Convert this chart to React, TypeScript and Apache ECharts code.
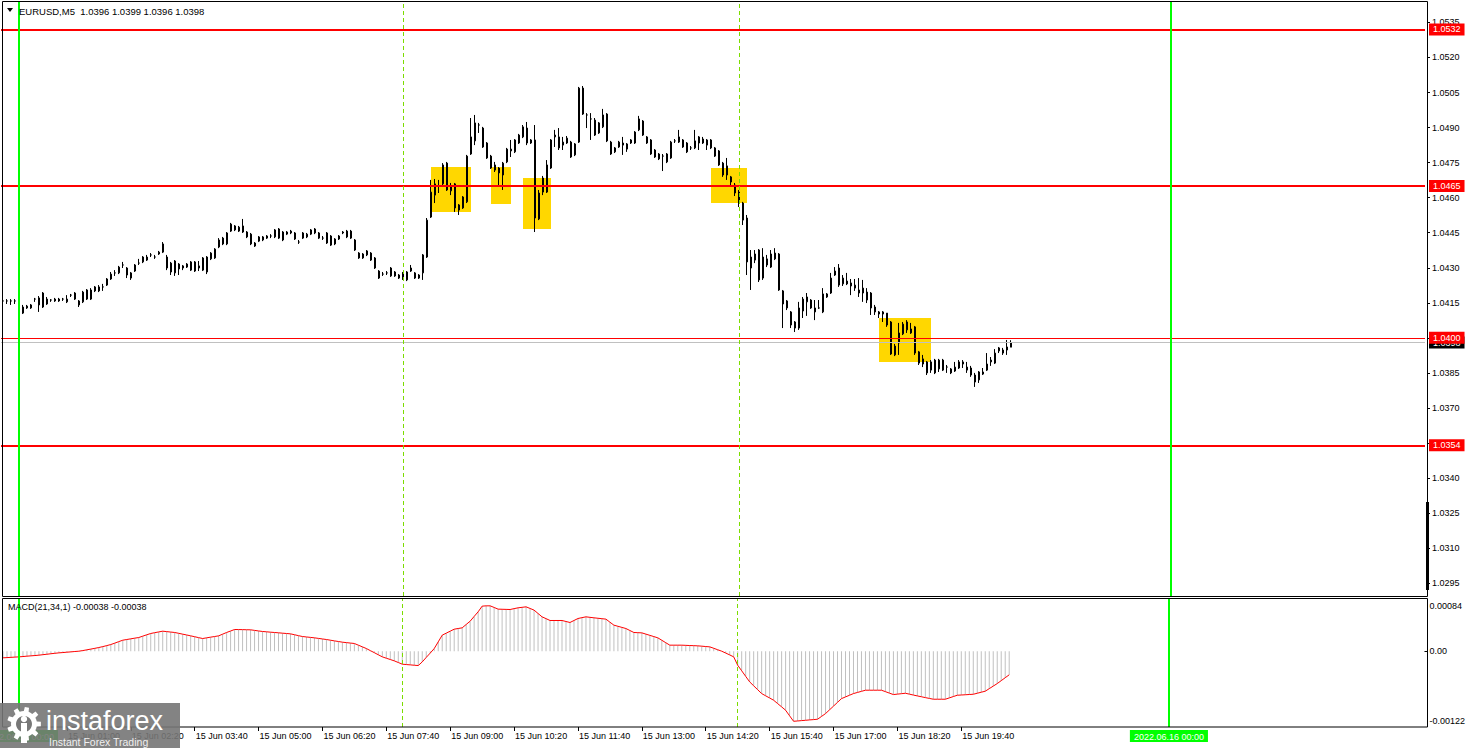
import React, { useEffect, useRef } from 'react';
import * as echarts from 'echarts';

// ---------- data ----------
const symbolName = 'EURUSD,M5';
const lastBar = { open: 1.0396, high: 1.0399, low: 1.0396, close: 1.0398 };
const macdTitle = 'MACD(21,34,1) -0.00038 -0.00038';

const opens = [
  1.04158,1.04158,1.04158,1.04158,1.04141,1.04106,1.04128,1.04128,1.04166,1.04171,
  1.04132,1.04166,1.04162,1.04166,1.04166,1.04166,1.04154,1.04183,1.04192,1.04158,
  1.04154,1.04205,1.04166,1.04218,1.04218,1.04218,1.04226,1.04252,1.04278,1.04278,
  1.04312,1.04299,1.04256,1.04286,1.04320,1.04325,1.04333,1.04355,1.04346,1.04359,
  1.04402,1.04346,1.04320,1.04278,1.04316,1.04308,1.04303,1.04325,1.04325,1.04299,
  1.04342,1.04282,1.04338,1.04342,1.04389,1.04427,1.04402,1.04457,1.04479,1.04457,
  1.04479,1.04453,1.04444,1.04393,1.04414,1.04419,1.04427,1.04436,1.04432,1.04427,
  1.04453,1.04444,1.04449,1.04449,1.04410,1.04427,1.04432,1.04444,1.04449,1.04449,
  1.04427,1.04406,1.04436,1.04423,1.04423,1.04449,1.04457,1.04457,1.04419,1.04363,
  1.04342,1.04355,1.04363,1.04342,1.04286,1.04273,1.04278,1.04265,1.04282,1.04256,
  1.04278,1.04248,1.04299,1.04278,1.04269,1.04278,1.04346,1.04517,1.04611,1.04650,
  1.04659,1.04748,1.04629,1.04659,1.04569,1.04556,1.04582,1.04787,1.04843,1.04911,
  1.04898,1.04834,1.04778,1.04718,1.04727,1.04697,1.04753,1.04800,1.04796,1.04834,
  1.04860,1.04898,1.04847,1.04847,1.04509,1.04684,1.04624,1.04727,1.04860,1.04860,
  1.04825,1.04834,1.04838,1.04783,1.04838,1.05069,1.04954,1.04937,1.04932,1.04877,
  1.04903,1.04958,1.04838,1.04796,1.04817,1.04825,1.04808,1.04834,1.04834,1.04890,
  1.04928,1.04860,1.04847,1.04804,1.04787,1.04778,1.04753,1.04770,1.04843,1.04838,
  1.04847,1.04834,1.04813,1.04813,1.04834,1.04851,1.04825,1.04847,1.04813,1.04800,
  1.04748,1.04736,1.04689,1.04654,1.04624,1.04577,1.04513,1.04299,1.04333,1.04376,
  1.04256,1.04338,1.04303,1.04363,1.04359,1.04201,1.04158,1.04111,1.04068,1.04042,
  1.04115,1.04154,1.04162,1.04128,1.04128,1.04111,1.04175,1.04192,1.04269,1.04299,
  1.04231,1.04243,1.04222,1.04213,1.04205,1.04213,1.04196,1.04192,1.04132,1.04102,
  1.04102,1.04106,1.04068,1.03927,1.03978,1.04017,1.04034,1.04021,1.04047,1.03940,
  1.03910,1.03897,1.03862,1.03905,1.03867,1.03905,1.03875,1.03867,1.03858,1.03871,
  1.03897,1.03875,1.03871,1.03841,1.03820,1.03845,1.03862,1.03897,1.03892,1.03944,
  1.03948,1.03948,1.03960,
];

const closes = [
  1.04158,1.04158,1.04158,1.04158,1.04111,1.04132,1.04136,1.04141,1.04166,1.04141,
  1.04192,1.04145,1.04162,1.04158,1.04158,1.04166,1.04166,1.04183,1.04166,1.04141,
  1.04196,1.04166,1.04205,1.04201,1.04201,1.04218,1.04252,1.04273,1.04278,1.04303,
  1.04312,1.04269,1.04278,1.04312,1.04320,1.04346,1.04346,1.04355,1.04346,1.04367,
  1.04367,1.04299,1.04282,1.04329,1.04295,1.04299,1.04316,1.04290,1.04286,1.04308,
  1.04290,1.04346,1.04363,1.04380,1.04419,1.04402,1.04449,1.04487,1.04462,1.04474,
  1.04453,1.04432,1.04402,1.04406,1.04432,1.04432,1.04436,1.04436,1.04462,1.04466,
  1.04419,1.04453,1.04457,1.04423,1.04410,1.04449,1.04444,1.04462,1.04466,1.04427,
  1.04427,1.04449,1.04397,1.04402,1.04436,1.04453,1.04432,1.04427,1.04376,1.04342,
  1.04359,1.04372,1.04333,1.04299,1.04256,1.04273,1.04278,1.04299,1.04265,1.04269,
  1.04252,1.04282,1.04286,1.04256,1.04256,1.04355,1.04504,1.04624,1.04659,1.04650,
  1.04740,1.04633,1.04650,1.04556,1.04547,1.04603,1.04778,1.04860,1.04920,1.04911,
  1.04817,1.04770,1.04727,1.04740,1.04706,1.04748,1.04808,1.04808,1.04847,1.04868,
  1.04903,1.04834,1.04834,1.04513,1.04620,1.04624,1.04740,1.04847,1.04868,1.04813,
  1.04838,1.04855,1.04774,1.04830,1.05069,1.04958,1.04954,1.04937,1.04868,1.04920,
  1.04954,1.04843,1.04787,1.04813,1.04838,1.04834,1.04830,1.04847,1.04881,1.04937,
  1.04868,1.04834,1.04787,1.04774,1.04766,1.04778,1.04787,1.04838,1.04843,1.04860,
  1.04817,1.04796,1.04813,1.04843,1.04860,1.04834,1.04847,1.04813,1.04778,1.04740,
  1.04697,1.04697,1.04667,1.04620,1.04577,1.04504,1.04325,1.04346,1.04359,1.04248,
  1.04346,1.04312,1.04359,1.04338,1.04205,1.04145,1.04128,1.04055,1.04042,1.04128,
  1.04166,1.04175,1.04128,1.04111,1.04128,1.04188,1.04188,1.04256,1.04286,1.04226,
  1.04256,1.04231,1.04235,1.04226,1.04192,1.04192,1.04162,1.04128,1.04111,1.04111,
  1.04111,1.04055,1.03931,1.03965,1.04021,1.04059,1.04068,1.04038,1.03935,1.03892,
  1.03888,1.03850,1.03897,1.03850,1.03905,1.03862,1.03875,1.03850,1.03875,1.03897,
  1.03888,1.03862,1.03841,1.03811,1.03854,1.03854,1.03888,1.03905,1.03935,1.03957,
  1.03935,1.03961,1.03980,
];

const highs = [
  1.04166,1.04166,1.04166,1.04166,1.04145,1.04141,1.04141,1.04145,1.04171,1.04179,
  1.04196,1.04175,1.04166,1.04171,1.04171,1.04171,1.04183,1.04188,1.04196,1.04162,
  1.04201,1.04209,1.04213,1.04222,1.04226,1.04231,1.04256,1.04282,1.04290,1.04308,
  1.04325,1.04303,1.04282,1.04316,1.04338,1.04350,1.04355,1.04363,1.04355,1.04372,
  1.04410,1.04355,1.04325,1.04333,1.04320,1.04312,1.04320,1.04329,1.04329,1.04329,
  1.04346,1.04350,1.04367,1.04384,1.04427,1.04432,1.04453,1.04492,1.04483,1.04479,
  1.04509,1.04457,1.04449,1.04410,1.04436,1.04436,1.04440,1.04444,1.04466,1.04470,
  1.04457,1.04457,1.04462,1.04453,1.04419,1.04453,1.04449,1.04466,1.04470,1.04453,
  1.04436,1.04453,1.04440,1.04427,1.04440,1.04457,1.04462,1.04462,1.04423,1.04367,
  1.04363,1.04376,1.04367,1.04346,1.04290,1.04282,1.04286,1.04303,1.04286,1.04273,
  1.04282,1.04286,1.04312,1.04282,1.04273,1.04359,1.04513,1.04676,1.04680,1.04676,
  1.04748,1.04753,1.04663,1.04663,1.04573,1.04607,1.04783,1.04941,1.04954,1.04920,
  1.04903,1.04838,1.04783,1.04753,1.04731,1.04753,1.04813,1.04847,1.04851,1.04873,
  1.04911,1.04924,1.04851,1.04911,1.04633,1.04693,1.04761,1.04851,1.04890,1.04898,
  1.04860,1.04864,1.04843,1.04834,1.05074,1.05078,1.04962,1.04962,1.04941,1.04924,
  1.04980,1.04962,1.04843,1.04817,1.04843,1.04860,1.04834,1.04851,1.04885,1.04950,
  1.04932,1.04864,1.04851,1.04808,1.04791,1.04787,1.04791,1.04843,1.04851,1.04890,
  1.04851,1.04838,1.04821,1.04890,1.04864,1.04860,1.04851,1.04851,1.04817,1.04804,
  1.04753,1.04770,1.04693,1.04663,1.04633,1.04582,1.04526,1.04376,1.04376,1.04380,
  1.04384,1.04355,1.04376,1.04384,1.04363,1.04205,1.04162,1.04115,1.04072,1.04154,
  1.04175,1.04192,1.04166,1.04162,1.04162,1.04213,1.04192,1.04278,1.04303,1.04316,
  1.04269,1.04278,1.04252,1.04252,1.04256,1.04248,1.04213,1.04196,1.04141,1.04115,
  1.04115,1.04106,1.04072,1.03974,1.04064,1.04068,1.04076,1.04064,1.04051,1.03944,
  1.03927,1.03901,1.03905,1.03910,1.03910,1.03910,1.03884,1.03871,1.03897,1.03905,
  1.03905,1.03897,1.03880,1.03850,1.03858,1.03871,1.03935,1.03918,1.03952,1.03961,
  1.03957,1.03991,1.03990,
];

const lows = [
  1.04141,1.04145,1.04141,1.04145,1.04098,1.04102,1.04124,1.04124,1.04154,1.04111,
  1.04128,1.04141,1.04154,1.04154,1.04154,1.04158,1.04149,1.04175,1.04162,1.04132,
  1.04149,1.04162,1.04162,1.04196,1.04196,1.04201,1.04222,1.04248,1.04265,1.04273,
  1.04299,1.04256,1.04248,1.04282,1.04312,1.04320,1.04329,1.04346,1.04338,1.04355,
  1.04363,1.04290,1.04269,1.04265,1.04269,1.04290,1.04299,1.04286,1.04282,1.04286,
  1.04286,1.04273,1.04333,1.04338,1.04384,1.04397,1.04397,1.04453,1.04457,1.04453,
  1.04449,1.04427,1.04397,1.04389,1.04410,1.04414,1.04423,1.04427,1.04427,1.04423,
  1.04414,1.04440,1.04444,1.04419,1.04402,1.04423,1.04427,1.04440,1.04444,1.04423,
  1.04419,1.04402,1.04393,1.04397,1.04419,1.04444,1.04427,1.04423,1.04372,1.04338,
  1.04338,1.04350,1.04329,1.04295,1.04252,1.04265,1.04269,1.04261,1.04261,1.04252,
  1.04248,1.04243,1.04282,1.04252,1.04252,1.04248,1.04342,1.04513,1.04577,1.04620,
  1.04654,1.04629,1.04611,1.04539,1.04526,1.04552,1.04577,1.04783,1.04825,1.04877,
  1.04813,1.04766,1.04723,1.04710,1.04654,1.04633,1.04748,1.04774,1.04791,1.04830,
  1.04855,1.04825,1.04830,1.04453,1.04504,1.04611,1.04620,1.04723,1.04817,1.04804,
  1.04804,1.04830,1.04770,1.04778,1.04834,1.04954,1.04898,1.04847,1.04864,1.04873,
  1.04898,1.04838,1.04783,1.04791,1.04813,1.04783,1.04796,1.04830,1.04830,1.04885,
  1.04864,1.04830,1.04783,1.04770,1.04761,1.04714,1.04748,1.04766,1.04834,1.04834,
  1.04813,1.04791,1.04804,1.04808,1.04804,1.04830,1.04804,1.04808,1.04774,1.04736,
  1.04689,1.04676,1.04646,1.04607,1.04560,1.04483,1.04269,1.04205,1.04320,1.04239,
  1.04248,1.04303,1.04299,1.04333,1.04201,1.04042,1.04119,1.04042,1.04025,1.04034,
  1.04085,1.04094,1.04124,1.04076,1.04124,1.04106,1.04171,1.04188,1.04265,1.04218,
  1.04222,1.04226,1.04183,1.04201,1.04175,1.04154,1.04149,1.04098,1.04098,1.04085,
  1.04068,1.04047,1.03927,1.03922,1.03927,1.04012,1.04021,1.04017,1.03927,1.03884,
  1.03875,1.03841,1.03850,1.03845,1.03854,1.03858,1.03850,1.03845,1.03854,1.03867,
  1.03871,1.03850,1.03833,1.03790,1.03807,1.03841,1.03858,1.03880,1.03888,1.03935,
  1.03927,1.03927,1.03960,
];

const macdValues = [
  -0.000107,-0.000103,-0.000099,-0.000095,-0.000091,-0.000086,-0.000080,-0.000075,-0.000070,-0.000064,
  -0.000056,-0.000049,-0.000041,-0.000034,-0.000027,-0.000022,-0.000016,-0.000011,-0.000005,0,
  0.000010,0.000022,0.000034,0.000046,0.000059,0.000074,0.000090,0.000107,0.000130,0.000154,
  0.000177,0.000188,0.000199,0.000210,0.000220,0.000242,0.000264,0.000285,0.000298,0.000310,
  0.000322,0.000315,0.000308,0.000301,0.000288,0.000274,0.000261,0.000247,0.000233,0.000218,
  0.000204,0.000215,0.000226,0.000236,0.000247,0.000274,0.000301,0.000325,0.000349,0.000348,
  0.000347,0.000345,0.000344,0.000335,0.000326,0.000317,0.000312,0.000306,0.000301,0.000296,
  0.000290,0.000285,0.000279,0.000265,0.000250,0.000236,0.000229,0.000222,0.000215,0.000206,
  0.000197,0.000188,0.000177,0.000166,0.000156,0.000145,0.000138,0.000131,0.000124,0.000097,
  0.000070,0.000043,0.000009,-0.000024,-0.000058,-0.000091,-0.000113,-0.000134,-0.000156,-0.000182,
  -0.000209,-0.000215,-0.000220,-0.000226,-0.000231,-0.000172,-0.000100,-0.000030,0.000043,0.000150,
  0.000258,0.000290,0.000322,0.000354,0.000365,0.000376,0.000430,0.000483,0.000560,0.000634,
  0.000725,0.000730,0.000730,0.000704,0.000677,0.000675,0.000673,0.000671,0.000685,0.000698,
  0.000706,0.000714,0.000688,0.000661,0.000607,0.000553,0.000524,0.000494,0.000494,0.000494,
  0.000494,0.000478,0.000462,0.000494,0.000526,0.000540,0.000553,0.000545,0.000537,0.000530,
  0.000523,0.000516,0.000467,0.000419,0.000401,0.000383,0.000365,0.000333,0.000301,0.000298,
  0.000295,0.000275,0.000255,0.000235,0.000215,0.000176,0.000136,0.000097,0.000097,0.000097,
  0.000097,0.000094,0.000091,0.000089,0.000086,0.000081,0.000075,0.000070,0.000047,0.000023,
  0,-0.000030,-0.000060,-0.000091,-0.000226,-0.000315,-0.000405,-0.000494,-0.000557,-0.000619,
  -0.000682,-0.000718,-0.000753,-0.000789,-0.000843,-0.000896,-0.000950,-0.001040,-0.001128,-0.001123,
  -0.001117,-0.001112,-0.001106,-0.001101,-0.001095,-0.001050,-0.001004,-0.000944,-0.000884,-0.000823,
  -0.000763,-0.000736,-0.000709,-0.000682,-0.000664,-0.000646,-0.000628,-0.000628,-0.000628,-0.000628,
  -0.000628,-0.000651,-0.000675,-0.000698,-0.000691,-0.000684,-0.000677,-0.000691,-0.000706,-0.000720,
  -0.000733,-0.000747,-0.000760,-0.000773,-0.000773,-0.000773,-0.000773,-0.000752,-0.000730,-0.000709,
  -0.000705,-0.000701,-0.000697,-0.000693,-0.000677,-0.000660,-0.000644,-0.000603,-0.000562,-0.000521,
  -0.000474,-0.000427,-0.000380,
];

// horizontal levels (red), their line widths
const levelPrices = [1.0532, 1.0465, 1.04, 1.0354];
const levelWidths = [2, 2, 1, 2];
const bidPrice = 1.0398;

// yellow zones: [from bar, to bar, top price, bottom price]
const zones = [
  [107, 117, 1.04731, 1.04539],
  [122, 127, 1.04731, 1.04573],
  [130, 137, 1.04684, 1.04466],
  [177, 186, 1.04727, 1.04577],
  [219, 232, 1.04085, 1.03897],
];

const priceTicks = [1.0295, 1.031, 1.0325, 1.034, 1.0355, 1.037, 1.0385, 1.04, 1.0415, 1.043, 1.0445, 1.046, 1.0475, 1.049, 1.0505, 1.052, 1.0535];
const hiddenPriceLabels = [1.0355, 1.04];
const macdTicks = [0.00084, 0, -0.00122];
const timeLabels = ['15 Jun 01:00', '15 Jun 02:20', '15 Jun 03:40', '15 Jun 05:00', '15 Jun 06:20', '15 Jun 07:40', '15 Jun 09:00', '15 Jun 10:20', '15 Jun 11:40', '15 Jun 13:00', '15 Jun 14:20', '15 Jun 15:40', '15 Jun 17:00', '15 Jun 18:20', '15 Jun 19:40'];
const solidVLines = ['15 Jun 00:00', '16 Jun 00:00'];
const solidVLabels = ['2022.06.15 00:00', '2022.06.16 00:00'];
const dashedVLines = ['15 Jun 08:00', '15 Jun 15:00'];

const slotCount = 356; // bar slots on the time axis, 5 minutes each, from 14 Jun 23:40
const categories = Array.from({ length: slotCount }, (_, i) => {
  const total = 23 * 60 + 40 + 5 * i;
  const day = 14 + Math.floor(total / 1440);
  const m = total % 1440;
  return `${day} Jun ${String(Math.floor(m / 60)).padStart(2, '0')}:${String(m % 60).padStart(2, '0')}`;
});

const FONT = 'Liberation Sans';

function gearPoints(cx: number, cy: number, rOut: number, rIn: number, teeth: number) {
  const pts: number[][] = [];
  const step = (Math.PI * 2) / teeth;
  for (let k = 0; k < teeth; k++) {
    const a = k * step;
    const p = (r: number, ang: number) => [cx + r * Math.cos(ang), cy + r * Math.sin(ang)];
    pts.push(p(rIn, a - step * 0.5));
    pts.push(p(rIn, a - step * 0.27));
    pts.push(p(rOut, a - step * 0.18));
    pts.push(p(rOut, a + step * 0.18));
    pts.push(p(rIn, a + step * 0.27));
  }
  return pts;
}

export default function App() {
  const ref = useRef<HTMLDivElement>(null);
  useEffect(() => {
    if (!ref.current) return;
    const chart = echarts.init(ref.current, null, { renderer: 'svg' });
    const candleData = opens.map((o, i) => [o, closes[i], lows[i], highs[i]]);
    const showTime = (_: number, v: string) => timeLabels.includes(v);

    const vLineData = (withLabels: boolean) => [
      ...solidVLines.map((c, k) => ({
        xAxis: c,
        lineStyle: { color: '#00FF00', width: 2, type: 'solid' },
        label: withLabels
          ? { show: true, position: 'start', formatter: solidVLabels[k], backgroundColor: '#00FF00', color: '#ffffff', fontFamily: FONT, fontSize: 9, padding: [2, 4, 1, 4], distance: 3 }
          : { show: false },
      })),
      ...dashedVLines.map((c) => ({
        xAxis: c,
        lineStyle: { color: '#7CDC00', width: 1, type: [4, 3] },
        label: { show: false },
      })),
    ];

    const option: any = {
      animation: false,
      backgroundColor: '#ffffff',
      textStyle: { fontFamily: FONT },
      grid: [
        { left: 1, top: 2, width: 1424, height: 594 },
        { left: 1, top: 599, width: 1424, height: 128 },
      ],
      xAxis: [
        {
          type: 'category', gridIndex: 0, data: categories,
          axisLine: { show: false, onZero: false }, axisTick: { show: false }, axisLabel: { show: false }, splitLine: { show: false },
        },
        {
          type: 'category', gridIndex: 1, data: categories, position: 'bottom',
          axisLine: { show: false, onZero: false },
          axisTick: { show: true, alignWithLabel: true, interval: showTime, length: 4, lineStyle: { color: '#000' } },
          axisLabel: { interval: showTime, align: 'left', fontSize: 9, color: '#000', margin: 4, fontFamily: FONT, padding: [0, 0, 0, 1] },
          splitLine: { show: false },
        },
      ],
      yAxis: [
        {
          type: 'value', gridIndex: 0, position: 'right', offset: 2,
          min: 1.028952, max: 1.054375,
          splitLine: { show: false }, axisLine: { show: false },
          axisTick: { show: true, length: 3, customValues: priceTicks, lineStyle: { color: '#000' } },
          axisLabel: {
            customValues: priceTicks.filter((v) => !hiddenPriceLabels.includes(v)),
            formatter: (v: number) => v.toFixed(4), fontSize: 9, color: '#000', margin: 5, fontFamily: FONT,
          },
        },
        {
          type: 'value', gridIndex: 1, position: 'right', offset: 2,
          min: -0.00122, max: 0.00084,
          splitLine: { show: false }, axisLine: { show: false },
          axisTick: { show: true, length: 3, customValues: [0], lineStyle: { color: '#000' } },
          axisLabel: {
            customValues: macdTicks,
            formatter: (v: number) => (v > 0 ? `{t|${v.toFixed(5)}}` : v < 0 ? `{b|${v.toFixed(5)}}` : '0.00'),
            fontSize: 9, color: '#000', margin: 5, fontFamily: FONT,
            rich: {
              t: { fontSize: 9, fontFamily: FONT, color: '#000', padding: [14, 0, 0, 0] },
              b: { fontSize: 9, fontFamily: FONT, color: '#000', padding: [0, 0, 12, 0] },
            },
          },
        },
      ],
      series: [
        {
          name: 'zones', type: 'custom', xAxisIndex: 0, yAxisIndex: 0, z: 1, silent: true,
          data: zones,
          encode: { x: [0, 1], y: [2, 3] },
          renderItem: (_p: any, api: any) => {
            const a = api.coord([api.value(0), api.value(2)]);
            const b = api.coord([api.value(1), api.value(3)]);
            return { type: 'rect', shape: { x: a[0], y: a[1], width: b[0] - a[0], height: b[1] - a[1] }, style: { fill: '#FFD700' } };
          },
          markLine: {
            silent: true, symbol: ['none', 'none'], animation: false, precision: 5,
            data: [{
              yAxis: bidPrice,
              lineStyle: { color: '#C0C0C0', width: 1, type: 'solid' },
              label: { show: true, position: 'end', formatter: bidPrice.toFixed(4), backgroundColor: '#000000', color: '#ffffff', fontFamily: FONT, fontSize: 9, padding: [2, 4, 1, 4], distance: 4 },
            }],
          },
        },
        {
          name: symbolName, type: 'candlestick', xAxisIndex: 0, yAxisIndex: 0, z: 3,
          barWidth: 2,
          data: candleData,
          itemStyle: { color: '#ffffff', color0: '#000000', borderColor: '#000000', borderColor0: '#000000', borderWidth: 1 },
          markLine: {
            silent: true, symbol: ['none', 'none'], animation: false, precision: 5,
            data: [
              ...levelPrices.map((v, k) => ({
                yAxis: v,
                lineStyle: { color: '#FF0000', width: levelWidths[k], type: 'solid' },
                label: { show: true, position: 'end', formatter: v.toFixed(4), backgroundColor: '#FF0000', color: '#ffffff', fontFamily: FONT, fontSize: 9, padding: [2, 4, 1, 4], distance: 4 },
              })),
              ...vLineData(false),
            ],
          },
        },
        {
          name: 'MACD', type: 'bar', xAxisIndex: 1, yAxisIndex: 1, z: 2,
          barWidth: 1, data: macdValues,
          itemStyle: { color: '#C0C0C0' },
          markLine: { silent: true, symbol: ['none', 'none'], animation: false, precision: 5, data: vLineData(true) },
        },
        {
          name: 'Signal', type: 'line', xAxisIndex: 1, yAxisIndex: 1, z: 3,
          data: macdValues, symbol: 'none',
          lineStyle: { color: '#FF0000', width: 1 },
        },
      ],
      graphic: [
        { type: 'rect', z: 50, silent: true, shape: { x: 2.5, y: 1.5, width: 1425, height: 595 }, style: { fill: 'none', stroke: '#000', lineWidth: 1 } },
        { type: 'rect', z: 50, silent: true, shape: { x: 2.5, y: 598.5, width: 1425, height: 128.5 }, style: { fill: 'none', stroke: '#000', lineWidth: 1 } },
        { type: 'rect', z: 50, silent: true, shape: { x: 1426, y: 502, width: 3, height: 88 }, style: { fill: '#000' } },
        { type: 'polygon', z: 50, silent: true, shape: { points: [[7, 8], [13, 8], [10, 12]] }, style: { fill: '#000' } },
        {
          type: 'text', z: 50, silent: true, x: 19, y: 11,
          style: { text: `${symbolName}  ${lastBar.open.toFixed(4)} ${lastBar.high.toFixed(4)} ${lastBar.low.toFixed(4)} ${lastBar.close.toFixed(4)}`, fill: '#000', fontSize: 9.5, fontFamily: FONT, verticalAlign: 'middle' },
        },
        {
          type: 'text', z: 50, silent: true, x: 8, y: 607,
          style: { text: macdTitle, fill: '#000', fontSize: 9, fontFamily: FONT, verticalAlign: 'middle' },
        },
        // watermark
        { type: 'rect', z: 100, silent: true, shape: { x: 0, y: 703, width: 180, height: 45 }, style: { fill: 'rgba(118,118,118,0.9)' } },
        { type: 'polygon', z: 101, silent: true, shape: { points: gearPoints(24, 724, 17, 13, 9) }, style: { fill: '#ffffff' } },
        { type: 'circle', z: 102, silent: true, shape: { cx: 24, cy: 724, r: 8 }, style: { fill: '#777777' } },
        { type: 'circle', z: 103, silent: true, shape: { cx: 24, cy: 719, r: 3.2 }, style: { fill: '#ffffff' } },
        { type: 'rect', z: 103, silent: true, shape: { x: 21, y: 723, width: 6, height: 20 }, style: { fill: '#ffffff' } },
        {
          type: 'text', z: 103, silent: true, x: 46, y: 734,
          style: { text: 'instaforex', fill: '#ffffff', fontSize: 27, fontFamily: FONT, verticalAlign: 'bottom', lineHeight: 27 },
        },
        {
          type: 'text', z: 103, silent: true, x: 49, y: 736,
          style: { text: 'Instant Forex Trading', fill: '#f0f0f0', fontSize: 10.5, fontFamily: FONT, verticalAlign: 'top', lineHeight: 11 },
        },
      ],
    };
    chart.setOption(option);
    return () => chart.dispose();
  }, []);
  return (
    <div style={{ position: 'fixed', left: 0, top: 0, width: 1468, height: 748, background: '#fff' }}>
      <div ref={ref} style={{ width: 1468, height: 748 }} />
    </div>
  );
}
